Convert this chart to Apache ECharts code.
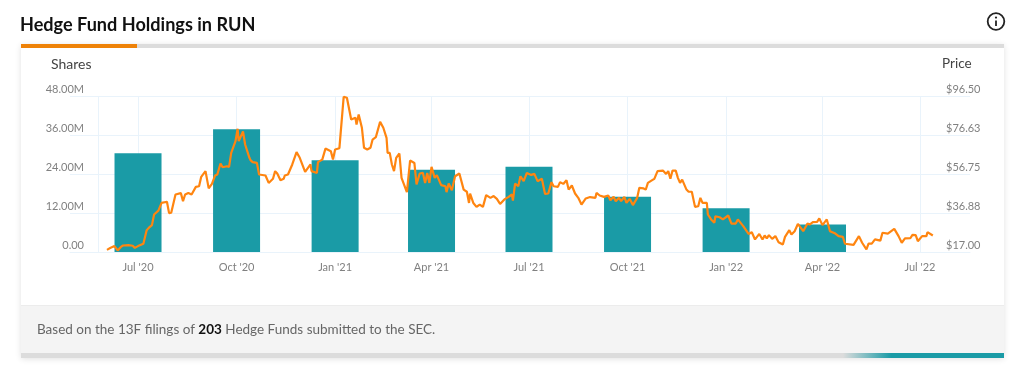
<!DOCTYPE html>
<html><head><meta charset="utf-8">
<style>html,body{margin:0;padding:0;background:#fff}#c{width:1024px;height:377px}</style>
<script src="https://cdn.jsdelivr.net/npm/echarts@6/dist/echarts.min.js"></script>
</head><body><div id="c"></div>
<script>
const tickLabelDates = ['2020-07-01','2020-10-01','2021-01-01','2021-04-01','2021-07-01','2021-10-01','2022-01-01','2022-04-01','2022-07-01'];
const holdingDates = ['2020-07-01','2020-10-01','2021-01-01','2021-04-01','2021-07-01','2021-10-01','2022-01-01','2022-04-01'];
const holdingShares = [30.4,37.8,28.2,25.3,26.2,17.0,13.5,8.5];
const shareTicks = [0,12,24,36,48];
const priceTicks = [17,36.88,56.75,76.63,96.5];
// price trace: days since 2020-07-01, and the price on that day
const days2020 = [-29,-26,-22,-19,-16,-14,-9,-5,-3,0,5,8,10,13,15,19,22,27,29,31,35,40,42,44,47,50,54,57,59,63,66,69,72,74,77,79,83,85,87,91,93,94,98,100,104,105,107,111,113,119,122,126,128,130,133,136,137,140,144,148,151,156,161,162,167,168,172,175,180,182,184];
const price2020 = [18.1,19.0,20.0,17.8,19.6,20.3,20.5,20.2,19.1,20.0,21.2,28.0,29.3,30.7,36.1,38.1,42.0,42.6,36.8,37.0,46.3,47.0,42.9,46.3,47.1,46.3,50.2,50.5,55.3,58.2,49.4,51.7,56.0,56.5,62.1,60.2,60.7,60.4,67.5,73.5,79.8,73.5,78.4,71.8,65.0,63.8,62.8,62.4,56.5,56.0,52.2,54.3,58.2,57.0,53.6,54.3,56.0,56.5,61.6,67.9,65.0,57.8,61.6,58.2,57.3,62.8,64.1,69.7,68.4,64.1,69.2];
const days2021a = [188,192,195,199,203,204,206,209,211,214,217,219,222,226,229,232,233,235,237,239,241,244,246,251,254,258,260,263,266,268,270,272,274,277,279,283,287,288,290,293,296,300,304,307,309,310,313,316,319,322,325,329,332,335,338,342,346,349,350,352,355,357,360,363,367,370,373,377,380,383,386,388,392,394,397,400,402,405,408,411,414];
const price2021a = [69.9,96.1,95.6,84.5,85.4,82.0,87.1,80.3,70.1,69.2,70.1,74.3,75.5,83.3,80.3,75.2,67.5,67.5,61.6,58.2,65.0,67.2,54.8,47.5,63.6,62.4,51.4,57.0,57.3,52.2,57.3,52.2,60.4,54.8,56.2,51.1,50.5,47.5,51.9,48.5,55.6,57.0,48.8,47.7,42.0,46.8,42.0,40.0,41.2,40.0,46.0,44.6,45.5,44.1,41.5,43.8,45.1,46.3,43.2,51.9,50.5,55.6,53.1,57.3,56.3,56.8,53.1,54.3,46.6,46.8,52.6,50.5,50.2,52.6,51.7,53.6,48.8,50.9,46.8,44.6,41.2];
const days2021b = [418,422,427,428,431,435,439,441,444,446,449,451,454,456,459,462,466,468,472,474,476,480,482,485,490,493,495,497,499,502,504,506,508,512,514,517,520,523,525,527,531,532,535,538,539,543,546,551,554,558,560,565,570,573,576,580,583,585,587,589,592,595,598,602];
const price2021b = [44.3,45.0,44.6,47.1,45.8,45.1,45.8,43.4,45.1,42.9,44.6,42.9,45.1,42.0,44.1,40.9,44.6,49.7,49.4,48.8,52.2,53.6,54.3,58.2,58.5,56.8,58.2,54.3,58.5,58.5,54.8,52.2,53.9,48.8,47.7,47.7,40.0,40.3,44.6,42.0,42.0,36.1,33.6,31.9,35.2,34.7,33.6,35.6,31.5,31.5,33.6,30.2,26.2,27.1,23.4,26.2,23.4,25.4,23.9,25.6,23.7,25.1,22.0,20.8];
const days2022 = [604,608,610,613,616,621,625,627,630,634,636,639,643,646,651,654,658,660,668,673,676,680,682,685,688,693,695,700,706,710,713,716,721,723,726,728,732,736,737,742];
const price2022 = [24.7,28.1,25.9,27.6,31.3,27.6,31.5,31.0,32.2,32.4,34.1,30.7,33.6,27.6,26.4,25.1,24.7,21.2,20.6,25.1,21.7,18.3,21.3,21.3,23.4,22.8,26.8,26.4,28.8,25.1,21.7,23.9,24.0,25.7,25.6,22.5,25.1,25.1,27.1,25.4];

const DAY = 86400000, ORIGIN = Date.UTC(2020,6,1);
const ts = s => Date.parse(s + 'T00:00:00Z');
const priceDays = days2020.concat(days2021a, days2021b, days2022);
const prices = price2020.concat(price2021a, price2021b, price2022);
const priceData = priceDays.map((d,i)=>[ORIGIN + d*DAY, prices[i]]);
const barData = holdingDates.map((d,i)=>[ts(d), holdingShares[i]]);
const tickTs = tickLabelDates.map(ts);
const MONTHS = ['Jan','Feb','Mar','Apr','May','Jun','Jul','Aug','Sep','Oct','Nov','Dec'];
const FONT = 'Lato, "Open Sans", sans-serif';
const GRID = '#e9f3fb', LABEL = '#808080', TEAL = '#1a9ba6', ORANGE = '#ff8510';

const rect = (x,y,w,h,fill,extra) => Object.assign({type:'rect',z:-10,silent:true,shape:{x,y,width:w,height:h},style:{fill}},extra||{});
const chart = echarts.init(document.getElementById('c'));
chart.setOption({
  animation:false,
  backgroundColor:'#fff',
  textStyle:{fontFamily:FONT},
  grid:{left:70,right:54,top:96,height:156,containLabel:false},
  xAxis:{
    type:'value',
    min:ORIGIN-63.5*DAY, max:ORIGIN+776.7*DAY,
    axisLine:{show:true,onZero:false,lineStyle:{color:GRID}},
    axisTick:{show:false,customValues:[ORIGIN-37.3*DAY].concat(tickTs)},
    axisLabel:{customValues:tickTs,color:LABEL,fontSize:11,fontFamily:FONT,margin:10,hideOverlap:false,showMinLabel:true,showMaxLabel:true,
      formatter:v=>{const d=new Date(v);return MONTHS[d.getUTCMonth()]+" '"+String(d.getUTCFullYear()).slice(2);}},
    splitLine:{show:true,lineStyle:{color:GRID,width:1}}
  },
  yAxis:[
    {type:'value',min:0,max:48,interval:12,position:'left',
      axisLine:{show:false},axisTick:{show:false},
      axisLabel:{customValues:shareTicks,color:LABEL,fontSize:11,fontFamily:FONT,margin:-14,align:'right',verticalAlign:'bottom',lineHeight:13,
        formatter:v=>v===0?'0.00':v.toFixed(2)+'M'},
      splitLine:{show:true,lineStyle:{color:GRID,width:1}}},
    {type:'value',min:17,max:96.5,position:'right',
      axisLine:{show:false},axisTick:{show:false},
      axisLabel:{customValues:priceTicks,color:LABEL,fontSize:11,fontFamily:FONT,margin:-24,align:'left',verticalAlign:'bottom',lineHeight:13,
        formatter:v=>'$'+v.toFixed(2)},
      splitLine:{show:false}}
  ],
  series:[
    {type:'bar',name:'Shares',yAxisIndex:0,data:barData,barWidth:47,itemStyle:{color:TEAL},silent:true,z:2},
    {type:'line',name:'Price',yAxisIndex:1,data:priceData,showSymbol:false,symbol:'none',lineStyle:{color:ORANGE,width:2.2},smooth:false,silent:true,z:3}
  ],
  graphic:[
    rect(21,44,983,314,'#fff',{style:{fill:'#fff',shadowBlur:6,shadowColor:'rgba(0,0,0,0.12)',shadowOffsetY:1}}),
    rect(21,44,983,4,'#dcdcdc'),
    rect(21,44,116,4,'#ee8208'),
    rect(21,305,983,48,'#f4f4f4'),
    rect(21,305,983,1,'#ececec'),
    rect(21,353,983,5,'#dcdcdc'),
    rect(843,353,161,5,TEAL,{style:{fill:new echarts.graphic.LinearGradient(0,0,1,0,[{offset:0,color:'rgba(26,155,166,0)'},{offset:0.3,color:TEAL},{offset:1,color:TEAL}])}}),
    {type:'text',z:5,silent:true,style:{x:20,y:25,text:'Hedge Fund Holdings in RUN',fill:'#111',fontFamily:FONT,fontWeight:'bold',fontSize:18.1,verticalAlign:'middle'}},
    {type:'text',z:5,silent:true,style:{x:51,y:64,text:'Shares',fill:'#444',fontFamily:FONT,fontSize:14,verticalAlign:'middle'}},
    {type:'text',z:5,silent:true,style:{x:942,y:64,text:'Price',fill:'#444',fontFamily:FONT,fontSize:13.5,verticalAlign:'middle'}},
    {type:'text',z:5,silent:true,style:{x:37,y:330,verticalAlign:'middle',fontFamily:FONT,
      text:'{a|Based on the 13F filings of }{b|203}{a| Hedge Funds submitted to the SEC.}',
      rich:{a:{fill:'#666',fontSize:13.5,fontFamily:FONT},b:{fill:'#111',fontSize:13.5,fontWeight:'bold',fontFamily:FONT}}}},
    {type:'circle',z:5,silent:true,shape:{cx:996,cy:21.5,r:8.3},style:{fill:'none',stroke:'#222',lineWidth:1.8}},
    {type:'rect',z:5,silent:true,shape:{x:995.1,y:20.5,width:1.8,height:5.5},style:{fill:'#222'}},
    {type:'circle',z:5,silent:true,shape:{cx:996,cy:17.6,r:1.1},style:{fill:'#222'}}
  ]
});
</script></body></html>
